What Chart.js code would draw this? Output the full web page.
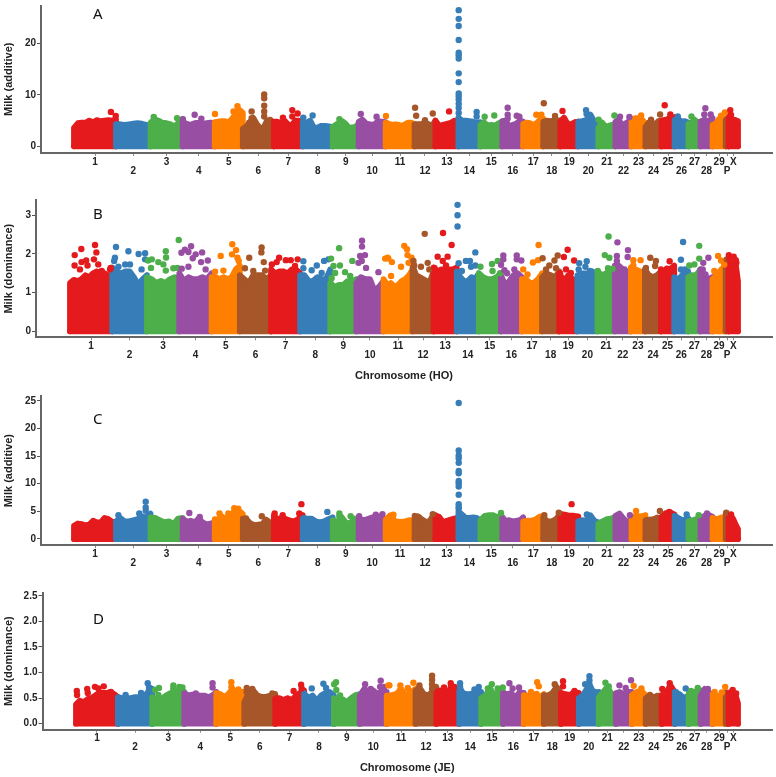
<!DOCTYPE html>
<html>
<head>
<meta charset="utf-8">
<style>
  body { margin: 0; background: #fff; }
  canvas { position: absolute; left: 0; }
  .tag { position: absolute; font: 15px "Noto Sans", sans-serif; color: #111; line-height: 20px; }
</style>
<script src="https://cdn.jsdelivr.net/npm/chart.js@4"></script>
</head>
<body>
<canvas id="panelA" width="776" height="180" style="top:0"></canvas>
<canvas id="panelB" width="776" height="193" style="top:190px"></canvas>
<canvas id="panelC" width="776" height="185" style="top:390px"></canvas>
<canvas id="panelD" width="776" height="195" style="top:580px"></canvas>
<div class="tag" style="left:93px;top:3px">A</div>
<div class="tag" style="left:93px;top:203px">B</div>
<div class="tag" style="left:93px;top:408px">C</div>
<div class="tag" style="left:93px;top:608px">D</div>
<script>
var chrLabels = ['1','2','3','4','5','6','7','8','9','10','11','12','13','14','15','16','17','18','19','20','21','22','23','24','25','26','27','28','29','P','X'];
// chromosome lengths in Mb
var chrLengths = [157,129,120,120,105,116,108,112,97,101,108,78,86,82,82,78,75,64,67,75,64,60,52,60,49,52,45,45,49,11,35];
var chrColors = ['#e41a1c','#377eb8','#4daf4a','#984ea3','#ff7f00','#a65628'];

var yTicksA = [0,10,20];
var yTicksB = [0,1,2,3];
var yTicksC = [0,5,10,15,20,25];
var yTicksD = [0,0.5,1,1.5,2,2.5];

// upper edge of the dense cloud, one list per chromosome
var cloudA = [
  [3.6,4.5,4.6,4.6,5.0,4.7,5.1,4.9,5.0,5.1,5.0,5.2],[4.3,4.3,4.2,4.3,4.4,4.5,4.4,4.2,3.9],
  [4.6,5.3,5.0,4.6,4.5,4.3,3.9,4.6,5.3],[4.8,4.4,4.2,4.5,4.6,4.4,4.5,4.6,4.5],
  [4.7,4.8,4.9,4.9,4.7,5.4,6.4,7.1,6.5],[3.4,3.9,4.6,5.6,4.4,3.6,3.6,5.0,5.2,4.4],
  [4.8,4.8,4.6,5.0,4.2,4.2,5.0,5.0,4.6],[4.7,4.6,5.0,3.6,3.7,4.0,4.0,3.9,3.7],
  [3.8,4.2,4.6,4.9,4.4,3.6,3.7,3.8,4.4],[4.8,5.2,4.4,4.3,4.2,4.9,4.8,4.7],
  [4.6,4.4,4.2,4.3,4.2,4.0,4.3,4.6,4.6,4.3],[4.3,4.3,4.3,4.6,4.3,4.0,5.0],
  [5.0,4.0,4.2,4.4,4.6,5.0,5.0],[5.6,5.0,5.0,4.9,4.8,4.6,4.7],
  [4.2,4.7,4.0,4.2,4.0,4.5,4.9],[4.9,5.0,3.8,4.2,4.4,5.0,4.8],
  [4.4,4.6,4.5,4.2,4.5,5.2,5.4],[4.8,5.0,4.9,5.0,5.1,5.0],
  [4.8,5.6,4.4,4.3,4.7,4.8],[4.8,4.9,5.1,6.2,4.8,4.3],
  [3.6,4.7,3.9,4.0,4.2,4.4],[4.8,5.2,4.2,4.4,4.8,5.0],
  [5.2,5.5,5.5,5.2,4.5],[3.8,4.6,4.7,4.2,4.9,5.0],
  [5.0,5.2,5.5,5.7],[5.2,5.3,4.8,4.9,4.6],
  [4.4,4.6,5.2,4.7,4.8],[4.8,5.2,4.9,5.5],
  [4.2,4.4,5.4,5.5,5.0],[5.2,5.6],[6.0,5.5,5.2,5.1,4.9]
];
var cloudB = [
  [1.25,1.33,1.3,1.35,1.45,1.4,1.5,1.55,1.45,1.5,1.45,1.35],[1.65,1.55,1.5,1.55,1.55,1.4,1.2,1.35,1.45],
  [1.4,1.35,1.25,1.3,1.25,1.35,1.4,1.35],[1.5,1.3,1.4,1.35,1.35,1.4,1.35,1.5],
  [1.4,1.4,1.35,1.4,1.35,1.4,1.6,1.7],[1.45,1.35,1.25,1.45,1.45,1.45,1.35,1.45],
  [1.6,1.5,1.55,1.55,1.5,1.6,1.6,1.5],[1.45,1.45,1.3,1.3,1.4,1.35,1.35,1.6],
  [1.25,1.15,1.2,1.2,1.3,1.3,1.35],[1.25,1.4,1.35,1.35,1.05,1.15,1.3],
  [1.35,1.2,1.25,1.15,1.2,1.3,1.35,1.45,1.6],[1.7,1.45,1.4,1.35,1.3,1.3,1.55],
  [1.65,1.55,1.6,1.6,1.6,1.6,1.65],[1.55,1.4,1.3,1.3,1.4,1.35,1.5],
  [1.5,1.4,1.35,1.35,1.4,1.5],[1.45,1.2,1.3,1.45,1.5,1.4],
  [1.35,1.35,1.25,1.25,1.35,1.5],[1.4,1.5,1.45,1.4,1.55],
  [1.5,1.3,1.45,1.35,1.25],[1.45,1.5,1.5,1.55,1.35],
  [1.55,1.45,1.5,1.4,1.6],[1.7,1.7,1.6,1.55,1.5],
  [1.65,1.6,1.55,1.5],[1.6,1.45,1.4,1.45,1.55],
  [1.55,1.5,1.6,1.7],[1.4,1.35,1.5,1.55],
  [1.4,1.45,1.45,1.6],[1.6,1.45,1.35,1.4],
  [1.35,1.45,1.6,1.7],[1.75,1.8],[1.9,1.75,1.7,1.75,1.3]
];
var cloudC = [
  [2.4,2.8,2.7,2.5,2.6,3.3,3.0,3.0,3.8,3.6,3.1,3.1],[3.2,3.8,3.2,3.2,3.4,3.6,4.1,3.8,4.6],
  [3.9,3.8,3.4,3.0,3.2,2.7,3.7,3.8],[3.7,3.1,3.3,3.0,3.7,3.0,2.6,2.8,3.0],
  [3.6,3.5,4.1,3.6,4.2,4.6,5.3,5.0,4.5],[3.7,3.5,2.8,2.5,2.6,2.7,3.5,3.0,3.0],
  [4.2,3.5,3.9,3.6,3.3,3.2,3.7,4.3],[3.8,3.7,3.7,3.2,3.0,3.2,3.6,3.9],
  [3.4,3.0,4.0,3.0,2.8,3.7,3.4],[3.7,3.4,3.6,3.9,4.0,4.1,3.3],
  [3.5,4.3,3.2,3.1,3.2,3.4,3.2],[4.2,4.1,3.6,3.2,3.0,3.9,4.3],
  [4.2,4.0,3.0,3.3,3.5,3.7,3.9],[5.0,4.4,3.8,3.8,3.9,3.8,3.4],
  [3.4,4.2,4.3,4.3,3.9,4.0],[3.9,3.3,3.4,3.2,3.3,3.4,3.9],
  [3.2,3.3,3.3,3.5,4.0,4.2],[3.9,3.2,3.2,3.6,4.6],
  [4.5,4.4,4.2,4.2,4.1],[3.2,3.4,3.3,4.3,3.3,3.0],
  [2.8,3.2,3.6,3.7,4.0],[4.2,4.6,3.7,3.0,3.6],
  [3.8,4.2,4.1,4.3],[3.4,3.5,3.6,3.9,3.7],
  [4.0,4.7,4.8,4.4],[4.2,3.8,3.5,3.4,3.7],
  [3.2,3.4,3.6,4.0],[3.7,4.2,4.4,4.0],
  [3.8,3.6,3.9,3.9],[4.6,4.2],[4.4,4.2,3.6,2.6,1.8]
];
var cloudD = [
  [0.38,0.45,0.42,0.48,0.5,0.55,0.6,0.6,0.6,0.62,0.58,0.52],[0.52,0.5,0.5,0.5,0.52,0.52,0.55,0.6,0.68],
  [0.52,0.45,0.48,0.55,0.6,0.58,0.68,0.62],[0.6,0.55,0.57,0.56,0.55,0.55,0.52,0.55,0.62],
  [0.6,0.58,0.52,0.58,0.68,0.62,0.62,0.62],[0.42,0.6,0.65,0.55,0.52,0.53,0.55,0.58],
  [0.5,0.5,0.46,0.5,0.46,0.55,0.6,0.65],[0.6,0.5,0.55,0.45,0.55,0.6,0.62,0.55],
  [0.5,0.45,0.48,0.42,0.5,0.56,0.58],[0.55,0.68,0.62,0.65,0.58,0.65,0.62],
  [0.55,0.56,0.58,0.68,0.55,0.62,0.68],[0.65,0.7,0.58,0.55,0.62,0.72],
  [0.62,0.65,0.65,0.62,0.7,0.62,0.7],[0.72,0.6,0.58,0.58,0.6,0.65,0.62],
  [0.5,0.55,0.7,0.55,0.62,0.63],[0.6,0.58,0.6,0.5,0.62,0.6],
  [0.56,0.55,0.55,0.52,0.52,0.58],[0.56,0.55,0.6,0.72,0.6],
  [0.6,0.58,0.56,0.62,0.6],[0.5,0.55,0.68,0.72,0.55,0.62],
  [0.52,0.62,0.72,0.58,0.55],[0.6,0.62,0.58,0.62,0.62],
  [0.56,0.62,0.65,0.55],[0.5,0.55,0.52,0.55,0.55],
  [0.56,0.6,0.75,0.62],[0.62,0.58,0.5,0.55],
  [0.6,0.62,0.62,0.65],[0.55,0.68,0.6,0.58],
  [0.58,0.55,0.5,0.55],[0.62,0.6],[0.6,0.62,0.6,0.55,0.4]
];

// single markers standing clear of the cloud: genome position (Mb), score
var peakPosA = [138,156,527,611,623,596,664,711,711,711,711,711,664,655,781,816,836,816,857,892,451,476,407,298,385,992,1072,1131,1166,1275,1279,1341,1312,1402,1438,1438,1438,1438,1438,1438,1438,1438,1438,1438,1438,1438,1438,1438,1438,1505,1505,1535,1571,1621,1621,1621,1655,1665,1728,1747,1756,1798,1826,1914,1916,1961,2020,2041,2076,2120,2157,2191,2208,2229,2257,2308,2360,2356,2380,2419,2433,2453,2456];
var peakValA = [6.7,5.9,6.3,7.8,6.8,6.8,6.8,10.1,9.35,7.9,6.8,5.8,5.5,4.6,5.6,7.05,6.4,5.8,5.6,6.0,6.15,5.4,5.3,5.7,5.5,5.3,6.3,5.75,5.9,7.5,5.95,6.4,5.1,6.8,26.5,24.8,23.4,20.7,18.2,17.7,17.1,14.2,12.5,10.3,9.7,9.1,8.3,7.45,6.5,6.7,5.8,5.75,6.0,7.5,6.15,5.4,5.95,5.75,6.15,6.15,8.4,5.9,6.9,7.05,6.3,5.2,6.0,5.75,5.7,6.0,5.2,6.2,8.0,6.2,5.8,5.8,7.4,6.2,6.2,5.95,6.6,7.05,6.1];

var peakPosB = [17.5,42,93,98,89,43,60,65,17,37,105,118,151,149,171,167,164,217,255,279,180,205,223,266,279,356,357,290,304,328,347,384,399,301,356,404,414,427,440,450,467,456,491,487,512,504,440,415,560,603,617,602,622,627,570,539,712,711,666,720,650,681,725,777,750,768,802,820,846,836,867,867,898,917,944,960,935,970,1000,1003,979,985,1022,1049,1041,972,1085,1085,1096,1078,1072,1100,1084,1146,1171,1183,1180,1196,1242,1252,1254,1269,1230,1193,1258,1318,1276,1279,1304,1329,1335,1386,1418,1366,1403,1385,1354,1397,1440,1440,1440,1506,1471,1486,1444,1506,1490,1456,1525,1568,1589,1570,1598,1610,1610,1660,1660,1601.5,1614,1651,1624,1677,1741,1720,1739,1684,1700,1756,1812,1800,1781,1768.6,1806,1849,1835,1873,1843,1861,1821,1920,1892,1890,1915,1932,2001,1987,2004,1999,2016,1961,1999,2034,2073,2072,2032,2032,2060,2093,2120,2093,2156,2177,2140,2174,2228,2196,2218,2278,2270,2270,2285,2338,2338,2301,2320,2372,2353,2351,2361,2408,2419,2431,2394,2440,2448,2466,2476,2474,2450];
var peakValB = [1.97,2.13,2.23,2.04,1.86,1.79,1.83,1.7,1.7,1.6,1.73,1.56,1.64,1.6,2.18,1.9,1.82,2.07,2.0,2.02,1.67,1.73,1.73,1.6,1.86,2.07,1.91,1.83,1.86,1.79,1.73,1.63,1.64,1.64,1.57,2.36,2.03,2.11,2.05,2.2,1.99,1.89,2.04,1.79,1.83,1.6,1.67,1.62,1.95,2.25,2.1,1.99,1.9,1.82,1.57,1.54,2.17,2.04,1.9,1.79,1.63,1.56,1.57,1.9,1.73,1.79,1.84,1.84,1.86,1.69,1.81,1.63,1.58,1.7,1.82,1.86,1.51,1.88,2.15,1.7,1.69,1.51,1.53,1.82,1.43,1.37,2.34,2.19,1.97,1.95,1.77,1.64,1.82,1.53,1.88,1.88,1.9,1.79,2.21,2.12,1.97,1.9,1.67,1.43,1.77,2.52,1.82,1.7,1.67,1.77,1.6,2.54,2.23,1.93,1.93,1.82,1.64,1.7,3.27,3.0,2.71,2.04,1.82,1.82,1.76,1.7,1.67,1.56,1.67,1.74,1.82,1.56,1.5,1.96,1.86,1.96,1.86,1.72,1.58,1.6,1.5,1.83,2.23,1.78,1.84,1.6,1.47,1.89,1.96,1.83,1.7,1.6,1.63,2.11,1.92,1.83,1.6,1.51,1.5,1.81,1.76,1.6,1.67,1.56,2.45,1.97,1.9,1.63,1.62,1.56,1.51,2.3,2.1,1.92,1.95,1.82,1.6,1.84,1.84,1.7,1.9,1.82,1.64,1.69,1.81,1.6,1.62,2.31,1.85,1.6,1.6,2.21,1.88,1.7,1.73,1.9,1.77,1.6,1.47,1.95,1.83,1.73,1.56,1.86,1.97,1.93,1.77,1.84,1.86];

var peakPosC = [268,268,268,166,244,431,470,544,577,599,614,623,643,702,750,780,850,842,947,992,992,1034,1066,1153,1128,1194,1438,1438,1438,1438,1438,1438,1438,1438,1438,1438,1438,1438,1438,1438,1596,1860,1917,2078,2101,2190,2225,2290,2335,2366,2438,2456,1812,1758,1285,1341];
var peakValC = [6.75,5.7,5.1,4.3,4.6,4.7,4.0,4.6,4.6,5.55,5.5,4.75,3.7,4.1,4.6,4.3,6.3,4.6,4.9,4.6,4.1,4.1,4.1,4.5,4.4,4.4,24.6,16.0,15.1,14.6,13.8,12.3,11.9,10.5,10.1,9.5,8.0,6.3,5.8,5.5,4.7,6.3,4.45,4.3,5.05,5.05,4.9,4.45,4.3,4.6,4.75,4.45,4.75,4.3,4.0,4.5];

var peakPosD = [3,4,42,44,71,84,104,131,186,244,269,274,271,311,296,365,365,387.5,399,309,512,512,449,582.5,582.5,609,640,661,640,736,816,844,846,884,927.5,937.5,975,968,976,990,1084,1105,1142.5,1140,1155,1171,1175,1216,1265,1244,1216,1287.5,1335,1335,1335,1335,1380,1405,1419,1405,1440,1440,1494,1510,1559,1544,1581,1600,1625,1637,1661,1729,1735,1706,1727,1795,1826,1826,1869,1925,1925,1909,1925,1945,1985,1997.5,1981,2037.5,2061,2081,2091,2120,2152,2198,2226,2226,2248,2286,2331,2306,2369,2434,2421,2394,2462,2475];
var peakValD = [0.64,0.56,0.68,0.6,0.72,0.69,0.73,0.62,0.56,0.6,0.79,0.71,0.62,0.7,0.66,0.75,0.69,0.72,0.71,0.56,0.79,0.71,0.59,0.81,0.72,0.67,0.7,0.68,0.62,0.59,0.64,0.76,0.69,0.69,0.78,0.7,0.81,0.77,0.66,0.55,0.77,0.68,0.84,0.72,0.72,0.75,0.75,0.75,0.8,0.7,0.67,0.75,0.94,0.86,0.77,0.69,0.71,0.79,0.72,0.71,0.79,0.72,0.67,0.72,0.77,0.69,0.69,0.71,0.79,0.69,0.71,0.81,0.73,0.62,0.58,0.77,0.83,0.73,0.64,0.93,0.85,0.77,0.77,0.62,0.8,0.73,0.62,0.75,0.7,0.85,0.74,0.69,0.56,0.68,0.79,0.71,0.62,0.69,0.7,0.64,0.68,0.72,0.61,0.62,0.66,0.59];

var chrStarts = [];
var genomeLength = 0;
chrLengths.forEach(function (len) {
  chrStarts.push(genomeLength);
  genomeLength += len;
});
var chrMids = chrStarts.map(function (start, i) { return start + chrLengths[i] / 2; });

function chrAt(pos) {
  var i = chrStarts.length - 1;
  while (i > 0 && chrStarts[i] > pos) i--;
  return i;
}

function colorOf(i) {
  return chrColors[i % chrColors.length];
}

var tickFont = { family: '"Liberation Sans", Arial, sans-serif', size: 10, weight: 'bold', lineHeight: 0.9 };
var titleFont = { family: '"Liberation Sans", Arial, sans-serif', size: 11, weight: 'bold' };

function drawPanel(opts) {
  var datasets = [];
  var ppm = (opts.blobRight - opts.blobLeft) / genomeLength;

  // dots go on top of every cloud
  datasets.push({
    type: 'scatter',
    order: -100,
    data: opts.peakPos.map(function (p, i) { return { x: p, y: opts.peakVal[i] }; }),
    pointRadius: 3.2,
    pointHoverRadius: 3.2,
    pointBorderWidth: 0,
    pointBackgroundColor: opts.peakPos.map(function (p) { return colorOf(chrAt(p)); }),
    showLine: false
  });

  opts.cloud.forEach(function (tops, i) {
    var x0 = chrStarts[i];
    var len = chrLengths[i];
    var pts = [{ x: x0, y: 0 }];
    tops.forEach(function (v, j) {
      pts.push({ x: x0 + len * j / (tops.length - 1), y: v });
    });
    pts.push({ x: x0 + len, y: 0 });
    var common = {
      type: 'scatter',
      showLine: true,
      order: -i,
      borderColor: colorOf(i),
      backgroundColor: colorOf(i),
      borderWidth: 5.8,
      borderJoinStyle: 'round',
      borderCapStyle: 'round',
      pointRadius: 0,
      tension: 0
    };
    datasets.push(Object.assign({}, common, { data: pts, fill: 'origin' }));
    datasets.push(Object.assign({}, common, { data: [pts[0], pts[pts.length - 1]], fill: false }));
  });

  new Chart(document.getElementById(opts.id), {
    type: 'scatter',
    data: { datasets: datasets },
    options: {
      responsive: false,
      animation: false,
      layout: { padding: { top: opts.padTop, right: 4, left: 0, bottom: 0 } },
      plugins: { legend: { display: false }, tooltip: { enabled: false } },
      scales: {
        x: {
          type: 'linear',
          min: -(opts.blobLeft - opts.axisLeft) / ppm,
          max: genomeLength + (772 - opts.blobRight) / ppm,
          afterBuildTicks: function (scale) {
            scale.ticks = chrMids.map(function (v) { return { value: v }; });
          },
          afterFit: function (scale) { scale.height = opts.xHeight; },
          border: { color: '#666', width: 2 },
          grid: { drawOnChartArea: false, color: '#888', tickLength: 3 },
          ticks: {
            autoSkip: false,
            maxRotation: 0,
            minRotation: 0,
            padding: 1.5,
            color: '#222',
            font: tickFont,
            includeBounds: false,
            callback: function (value, index) {
              return index % 2 === 0 ? [chrLabels[index]] : ['', chrLabels[index]];
            }
          },
          title: {
            display: !!opts.xTitle,
            text: opts.xTitle,
            color: '#222',
            font: titleFont,
            padding: { top: 0, bottom: 0 }
          }
        },
        y: {
          min: opts.yMin,
          max: opts.yMax,
          afterBuildTicks: function (scale) {
            scale.ticks = opts.yTicks.map(function (v) { return { value: v }; });
          },
          afterFit: function (scale) { scale.width = opts.axisLeft; },
          border: { color: '#666', width: 2 },
          grid: { drawOnChartArea: false, color: '#555', tickLength: 4 },
          ticks: {
            padding: 1,
            color: '#222',
            font: tickFont,
            includeBounds: false,
            callback: function (value) { return value.toFixed(opts.decimals); }
          },
          title: {
            display: true,
            text: opts.yTitle,
            color: '#222',
            font: titleFont,
            padding: { top: 2, bottom: 0 }
          }
        }
      }
    }
  });
}

drawPanel({
  id: 'panelA', cloud: cloudA, peakPos: peakPosA, peakVal: peakValA, yTicks: yTicksA, decimals: 0,
  yTitle: 'Milk (additive)', xTitle: '',
  axisLeft: 41, blobLeft: 74, blobRight: 738, padTop: 4, xHeight: 27, yMin: -1.29, yMax: 27.4
});
drawPanel({
  id: 'panelB', cloud: cloudB, peakPos: peakPosB, peakVal: peakValB, yTicks: yTicksB, decimals: 0,
  yTitle: 'Milk (dominance)', xTitle: 'Chromosome (HO)',
  axisLeft: 36, blobLeft: 70, blobRight: 738, padTop: 10, xHeight: 45.7, yMin: -0.155, yMax: 3.395
});
drawPanel({
  id: 'panelC', cloud: cloudC, peakPos: peakPosC, peakVal: peakValC, yTicks: yTicksC, decimals: 0,
  yTitle: 'Milk (additive)', xTitle: '',
  axisLeft: 41, blobLeft: 74, blobRight: 738, padTop: 6, xHeight: 29.7, yMin: -1.14, yMax: 25.86
});
drawPanel({
  id: 'panelD', cloud: cloudD, peakPos: peakPosD, peakVal: peakValD, yTicks: yTicksD, decimals: 1,
  yTitle: 'Milk (dominance)', xTitle: 'Chromosome (JE)',
  axisLeft: 42.5, blobLeft: 76, blobRight: 738, padTop: 12.7, xHeight: 45.3, yMin: -0.117, yMax: 2.56
});
</script>
</body>
</html>
